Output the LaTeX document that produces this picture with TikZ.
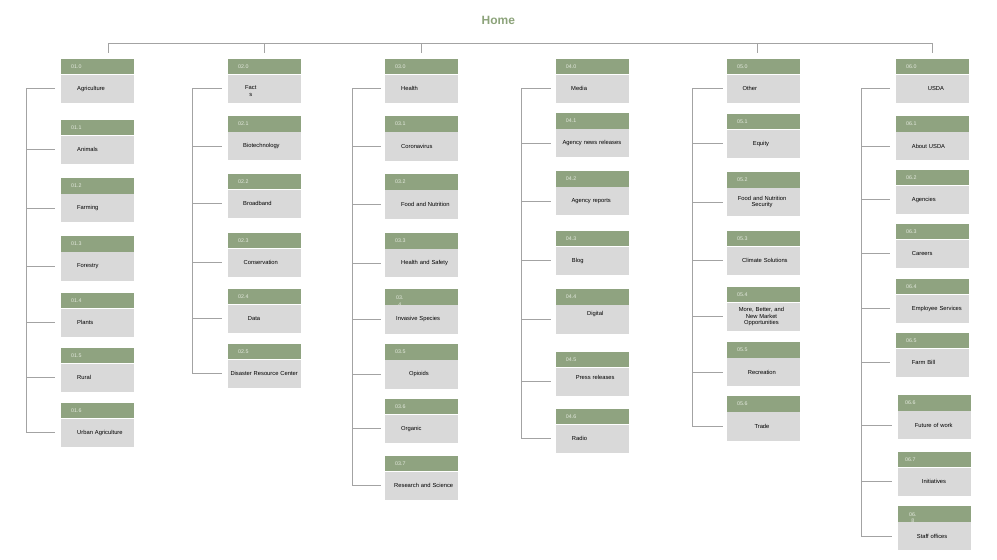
\documentclass[tikz,border=0pt]{standalone}
\usepackage{fontspec}
\setmainfont{Liberation Sans}
\usetikzlibrary{positioning}

\begin{document}
\begin{tikzpicture}[x=1pt,y=-1pt,
  hdr/.style={fill=sage,text=hdtext,anchor=north west,minimum height=15.7pt,text width=53pt,inner xsep=10pt,inner ysep=0pt,align=left,font=\fontsize{5.3}{6.2}\selectfont},
  body/.style={fill=boxgrey,minimum height=28.3pt,text width=73pt,inner sep=0pt,align=left,font=\fontsize{5.8}{6.8}\selectfont},
  link/.style={draw=linegrey,line width=0.9pt}]
\definecolor{sage}{HTML}{8FA380}
\definecolor{hdtext}{HTML}{E4EADF}
\definecolor{boxgrey}{HTML}{D9D9D9}
\definecolor{linegrey}{HTML}{A3A3A3}
\definecolor{homegreen}{HTML}{8CA37A}
\useasboundingbox (0,0) rectangle (997,560);
\node[font=\fontsize{12}{14}\selectfont\bfseries,text=homegreen] (home) at (498.3,20.5) {Home};

% column 01
\foreach \i/\ty/\dx/\txt in {0/58.3/16/Agriculture,1/119.3/16/Animals,2/177.7/16/Farming,3/236/16/Forestry,4/292.3/16/Plants,5/347.3/16/Rural,6/402.3/16/Urban Agriculture}
  { \node[hdr] (h1-\i) at (61,\ty) {01.\i};
    \node[body,below=0pt of h1-\i] (b1-\i) {\hspace*{\dx pt}\txt};}
% column 02
\foreach \i/\ty/\dx/\txt in {0/58.3/17/{\smash{\raisebox{-4.6pt}{\begin{tabular}{@{}c@{}}Fact\\s\end{tabular}}}},1/115.7/15/Biotechnology,2/173.3/15/Broadband,3/232.3/15.5/Conservation,4/288.3/19.7/Data,5/343.3/2.3/Disaster Resource Center}
  { \node[hdr] (h2-\i) at (228,\ty) {02.\i};
    \node[body,below=0pt of h2-\i] (b2-\i) {\hspace*{\dx pt}\txt};}
% column 03
\foreach \i/\ty/\dx/\txt in {0/58.3/16/Health,1/116/16/Coronavirus,2/174/16/Food and Nutrition,3/232.7/16/Health and Safety,5/344/24/Opioids,6/398.3/16/Organic,7/455.3/9/Research and Science}
  { \node[hdr] (h3-\i) at (385,\ty) {03.\i};
    \node[body,below=0pt of h3-\i] (b3-\i) {\hspace*{\dx pt}\txt};}
\node[hdr] (h3-4) at (385,289) {\hspace*{1pt}\smash{\raisebox{-5.9pt}{\begin{tabular}{@{}c@{}}03.\\4\end{tabular}}}};
\node[body,below=0pt of h3-4] (b3-4) {\hspace*{11pt}Invasive Species};
% column 04
\foreach \i/\ty/\dx/\txt in {0/58.3/15.3/Media,1/112.7/6.6/Agency news releases,2/170.7/15.6/Agency reports,3/230.3/16/Blog,4/289/31.3/{\smash{\raisebox{4.3pt}{Digital}}},5/351.3/20/{\smash{\raisebox{2pt}{Press releases}}},6/408.3/16/Radio}
  { \node[hdr] (h4-\i) at (555.7,\ty) {04.\i};
    \node[body,below=0pt of h4-\i] (b4-\i) {\hspace*{\dx pt}\txt};}
% column 05
\foreach \i/\ty/\dx/\txt in {0/58.3/15.3/Other,1/113.3/25.7/Equity,2/171.7/10.7/{\begin{tabular}{@{}c@{}}Food and Nutrition\\Security\end{tabular}},3/230.3/15/Climate Solutions,4/286.3/11.7/{\begin{tabular}{@{}c@{}}More, Better, and\\New Market\\Opportunities\end{tabular}},5/341.7/20.7/Recreation,6/396/27.3/Trade}
  { \node[hdr] (h5-\i) at (727,\ty) {05.\i};
    \node[body,below=0pt of h5-\i] (b5-\i) {\hspace*{\dx pt}\txt};}
% column 06
\foreach \i/\ty/\dx/\txt in {0/58.3/31.7/USDA,1/115.7/15.7/About USDA,2/169.3/15.7/Agencies,3/223.3/15.7/Careers,4/278.3/15.7/Employee Services,5/332.3/15.7/Farm Bill}
  { \node[hdr] (h6-\i) at (896,\ty) {06.\i};
    \node[body,below=0pt of h6-\i] (b6-\i) {\hspace*{\dx pt}\txt};}
\foreach \i/\ty/\dx/\txt in {6/394.7/16.7/Future of work,7/451.3/23.7/Initiatives}
  { \node[hdr,inner xsep=7pt,text width=59pt] (h6-\i) at (898,\ty) {06.\i};
    \node[body,below=0pt of h6-\i] (b6-\i) {\hspace*{\dx pt}\txt};}
\node[hdr] (h6-8) at (898,505.7) {\hspace*{1pt}\smash{\raisebox{-6.1pt}{\begin{tabular}{@{}c@{}}06.\\8\end{tabular}}}};
\node[body,below=0pt of h6-8] (b6-8) {\hspace*{18.7pt}Staff offices};

% branches
\foreach \c/\n/\sx/\gap in {1/6/26.3/6,2/5/192.5/6.5,3/7/352.3/4,4/6/521.5/5,5/6/692.3/4.3,6/8/861.3/6.5}
  { \coordinate (s\c) at (\sx,0);
    \draw[link] ([xshift=-\gap pt]b\c-0.west) -- (s\c |- b\c-0.west) -- (s\c |- b\c-\n.west) -- ([xshift=-\gap pt]b\c-\n.west);
    \foreach \i in {1,...,\n} \draw[link] (s\c |- b\c-\i.west) -- ([xshift=-\gap pt]b\c-\i.west);}

% top bar
\coordinate (bar) at (0,43.3);
\foreach \c/\dx in {1/10.5,2/0,3/0,5/-5.8,6/0}
  \coordinate (d\c) at ([xshift=\dx pt,yshift=5.6pt]h\c-0.north);
\draw[link] (d1) |- (bar -| d6) -- (d6);
\foreach \c in {2,3,5} \draw[link] (d\c) -- (d\c |- bar);
\end{tikzpicture}
\end{document}
